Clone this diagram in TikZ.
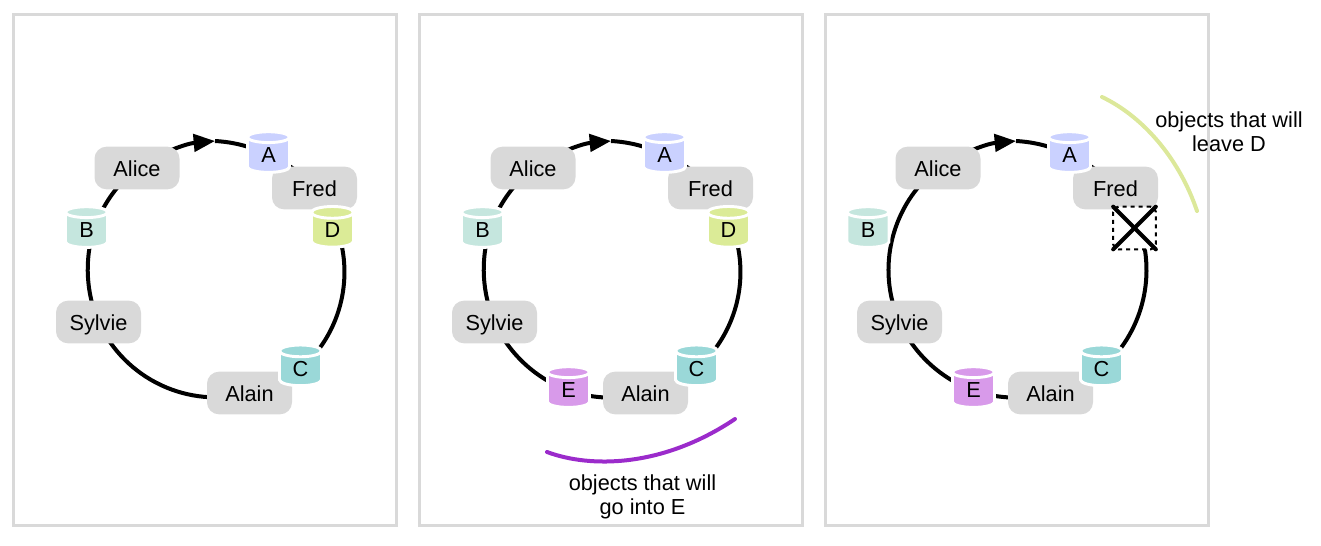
\documentclass[tikz,border=0pt]{standalone}
\usepackage{fontspec}
\setmainfont{Liberation Sans}
\usetikzlibrary{shapes.geometric,arrows.meta,backgrounds,calc}
\definecolor{cA}{HTML}{CAD1FF}
\definecolor{cB}{HTML}{C5E6DE}
\definecolor{cC}{HTML}{9AD8D8}
\definecolor{cD}{HTML}{DBEB97}
\definecolor{cE}{HTML}{D89AEA}
\definecolor{cG}{HTML}{D9D9D9}
\definecolor{cP}{HTML}{9B2BCB}
\definecolor{cL}{HTML}{DCE89A}
\tikzset{
  x=0.75pt,y=-0.75pt,
  every node/.style={font=\fontsize{16.3}{18}\selectfont},
  host/.style={fill=cG,rounded corners=9pt,minimum width=63.75pt,minimum height=32pt,inner sep=0pt,outer sep=0pt,text height=13pt,text depth=0pt},
  disk/.style={shape=cylinder,shape border rotate=90,aspect=0.75,draw=white,line width=2.2pt,
    cylinder uses custom fill,cylinder body fill=#1,cylinder end fill=#1,
    minimum width=31.5pt,minimum height=30.5pt,inner sep=0pt,outer sep=0pt},
  ring/.style={line width=3pt,black,looseness=0.88},
  panel/.style={draw=cG,line width=2pt,minimum width=287pt,minimum height=383pt,inner sep=0pt},
  caption/.style={align=center,inner sep=0pt},
  cross/.style={line width=3pt,line cap=round},
  gone/.style={draw,fill=white,dash pattern=on 3pt off 3pt,line width=1.6pt,minimum width=32pt,minimum height=32pt,inner sep=0pt,outer sep=0pt,rounded corners=4pt},
  tip/.style={-{Triangle[length=16pt,width=13pt]}}
}
\begin{document}
\begin{tikzpicture}
\useasboundingbox (0,0) rectangle (1321,546);
\node[panel] (p1) at (205,270) {};
\node[panel] (p2) at (611,270) {};
\node[panel] (p3) at (1017,270) {};

% panel 1
\begin{scope}
\coordinate (t1) at (215,141);
\node[host] (alice1) at (137,168) {Alice};
\node[host] (fred1) at (314.5,188) {Fred};
\node[host] (sylvie1) at (98.5,322) {Sylvie};
\node[host] (alain1) at (249.5,393) {Alain};
\node[disk=cA] (a1) at (268.5,155.5) {A};
\node[disk=cB] (b1) at (86.5,230.5) {B};
\node[disk=cC] (c1) at (300.5,369) {C};
\node[disk=cD] (d1) at (332.5,230.5) {D};
\end{scope}
\begin{scope}[on background layer]
\draw[ring,tip] (alice1.center) to[bend left=14] (t1);
\draw[ring,shorten >=3pt] (t1) to[bend left=12] (a1.center);
\draw[ring] (a1.center) to[bend left=14] (fred1.center);
\draw[ring] ($(b1.center)+(7,0)$) to[bend left=16] (alice1.center);
\draw[ring] (sylvie1.center) to[bend left=20] ($(b1.center)+(7,0)$);
\draw[ring,looseness=0.97] (alain1.center) to[bend left=40] (sylvie1.center);
\draw[ring,looseness=0.93] ($(d1.center)+(5,0)$) to[bend left=34] (c1.center);
\end{scope}

% panel 2
\begin{scope}[shift={(396,0)}]
\coordinate (t2) at (215,141);
\node[host] (alice2) at (137,168) {Alice};
\node[host] (fred2) at (314.5,188) {Fred};
\node[host] (sylvie2) at (98.5,322) {Sylvie};
\node[host] (alain2) at (249.5,393) {Alain};
\node[disk=cA] (a2) at (268.5,155.5) {A};
\node[disk=cB] (b2) at (86.5,230.5) {B};
\node[disk=cC] (c2) at (300.5,369) {C};
\node[disk=cD] (d2) at (332.5,230.5) {D};
\node[disk=cE] (e2) at (172.5,390.5) {E};
\end{scope}
\begin{scope}[on background layer]
\draw[ring,tip] (alice2.center) to[bend left=14] (t2);
\draw[ring,shorten >=3pt] (t2) to[bend left=12] (a2.center);
\draw[ring] (a2.center) to[bend left=14] (fred2.center);
\draw[ring] ($(b2.center)+(7,0)$) to[bend left=16] (alice2.center);
\draw[ring] (sylvie2.center) to[bend left=20] ($(b2.center)+(7,0)$);
\draw[ring] (e2.center) to[bend left=23] (sylvie2.center);
\draw[ring] (alain2.center) to[bend left=17] (e2.center);
\draw[ring,looseness=0.93] ($(d2.center)+(5,0)$) to[bend left=34] (c2.center);
\end{scope}
\draw[cP,line width=3pt,line cap=round] (547,452) .. controls (590,468) and (662,468) .. (735,419);
\node[caption] (cap2) at (642.5,497) {objects that will\\go into E};

% panel 3
\begin{scope}[shift={(801,0)}]
\coordinate (t3) at (215,141);
\node[host] (alice3) at (137,168) {Alice};
\node[host] (fred3) at (314.5,188) {Fred};
\node[host] (sylvie3) at (98.5,322) {Sylvie};
\node[host] (alain3) at (249.5,393) {Alain};
\node[disk=cA] (a3) at (268.5,155.5) {A};
\node[disk=cB] (b3) at (67,230.5) {B};
\node[disk=cC] (c3) at (300.5,369) {C};
\node[gone] (d3) at (333.5,228) {};
\node[disk=cE] (e3) at (172.5,390.5) {E};
\end{scope}
\begin{scope}[on background layer]
\draw[ring,tip] (alice3.center) to[bend left=14] (t3);
\draw[ring,shorten >=3pt] (t3) to[bend left=12] (a3.center);
\draw[ring] (a3.center) to[bend left=14] (fred3.center);
\draw[ring,looseness=0.95] (sylvie3.center) to[bend left=38] (alice3.center);
\draw[ring] (e3.center) to[bend left=23] (sylvie3.center);
\draw[ring] (alain3.center) to[bend left=17] (e3.center);
\draw[ring,looseness=0.93] ($(d3.center)+(5,0)$) to[bend left=34] (c3.center);
\end{scope}
\draw[cross] (d3.north west) -- (d3.south east);
\draw[cross] (d3.north east) -- (d3.south west);
\draw[cL,line width=3pt,line cap=round] (1102,97) .. controls (1140,115) and (1178,155) .. (1197,211);
\node[caption] (cap3) at (1229,132) {objects that will\\leave D};
\end{tikzpicture}
\end{document}
